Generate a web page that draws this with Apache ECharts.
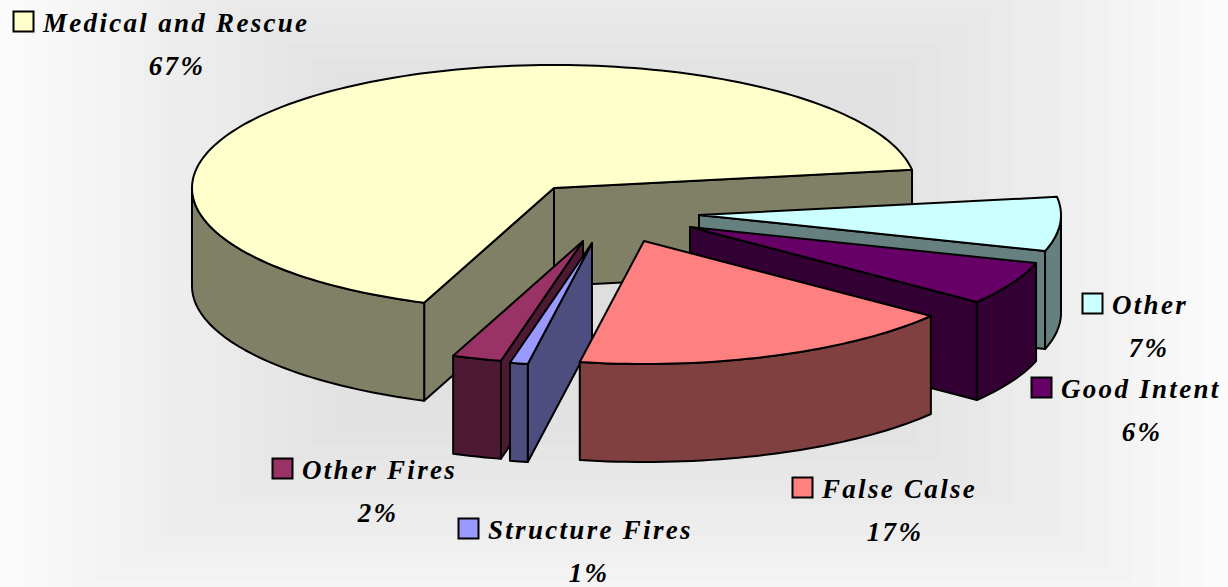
<!DOCTYPE html>
<html>
<head>
<meta charset="utf-8">
<style>
html,body{margin:0;padding:0;background:#fbfbfb}
#c{width:1228px;height:587px;letter-spacing:2.3px}
</style>
<script src="https://cdn.jsdelivr.net/npm/echarts@6/dist/echarts.min.js"></script>
</head>
<body>
<div id="c"></div>
<script>
// ---- data, in pie order (counter-clockwise from the start angle); labels show whole percents
var categories = ['Medical and Rescue','Other Fires','Structure Fires','False Calse','Good Intent','Other'];
var shares = [66.8,2.2,0.8,17.4,5.7,7.1];

// ---- styling and layout
var topColors  = ['#FFFFCC','#993366','#9999FF','#FF8080','#660066','#CCFFFF'];
var sideColors = ['#808066','#4D1933','#4D4D80','#804040','#330033','#668080'];
var drawOrder  = [0,5,4,1,2,3];
var pieCenter = [554,188], radiusX = 362, radiusY = 123, depth = 98, startAngle = 8.5;
var explodeX = [0,29,38,90,136,145];
var explodeY = [0,53,55,53,39,27];
var swatchX  = [13,272,458,792,1031,1082];
var swatchY  = [11,458,518,477,377,293];
var pctX     = [177,378,589,895,1142,1149];
var pctDY    = [43,43,43,43,43,43];
var FONT = 'italic bold 27px "Liberation Serif", serif';

var total = shares.reduce(function(a,b){return a+b;},0);
var angleFrom = [], angleTo = [];
(function(){var a=startAngle;shares.forEach(function(v,i){angleFrom[i]=a;a+=v/total*360;angleTo[i]=a;});})();

function pt(i,deg,drop){
  var r=deg*Math.PI/180;
  return [pieCenter[0]+explodeX[i]+radiusX*Math.cos(r),
          pieCenter[1]+explodeY[i]-radiusY*Math.sin(r)+(drop||0)];
}
function apex(i,drop){return [pieCenter[0]+explodeX[i],pieCenter[1]+explodeY[i]+(drop||0)];}
function poly(points,fill){
  return {type:'polygon',shape:{points:points},silent:true,
    style:{fill:fill,stroke:'#000',lineWidth:2,lineJoin:'round'}};
}
function arc(i,a,b,drop){
  var out=[],n=Math.max(2,Math.ceil((b-a)/1.5));
  for(var k=0;k<=n;k++){out.push(pt(i,a+(b-a)*k/n,drop));}
  return out;
}
function renderSlice(params,api){
  var i=api.value(0), a0=angleFrom[i], a1=angleTo[i], kids=[], side=sideColors[i];
  var cos=function(d){return Math.cos(d*Math.PI/180);};
  if(cos(a0)>0){kids.push(poly([apex(i),pt(i,a0),pt(i,a0,depth),apex(i,depth)],side));}
  if(cos(a1)<0){kids.push(poly([apex(i),pt(i,a1),pt(i,a1,depth),apex(i,depth)],side));}
  // outer wall: only the part of the rim that faces the viewer
  [[180,360],[540,720]].forEach(function(w){
    var s=Math.max(a0,w[0]), e=Math.min(a1,w[1]);
    if(e>s){kids.push(poly(arc(i,s,e,0).concat(arc(i,s,e,depth).reverse()),side));}
  });
  kids.push(poly([apex(i)].concat(arc(i,a0,a1,0)),topColors[i]));
  return {type:'group',children:kids};
}
function renderLabel(params,api){
  var i=api.value(0), x=swatchX[i], y=swatchY[i];
  return {type:'group',children:[
    {type:'rect',shape:{x:x+.5,y:y+.5,width:20,height:20},silent:true,
      style:{fill:topColors[i],stroke:'#000',lineWidth:2}},
    {type:'text',silent:true,style:{x:x+30,y:y+12,text:categories[i],font:FONT,fill:'#000',
      textAlign:'left',textVerticalAlign:'middle'}},
    {type:'text',silent:true,style:{x:pctX[i],y:y+12+pctDY[i],text:Math.round(shares[i])+'%',font:FONT,fill:'#000',
      textAlign:'center',textVerticalAlign:'middle'}}
  ]};
}

// banded rectangular backdrop gradient
var bgT=[0,0.49,0.6,0.79,0.92,1], bgV=[220,227,232,240,247,251];
var bgCenter=[614,252], bgHalf=[614,390], bgStep=0.039;
function bgShade(t){
  for(var k=1;k<bgT.length;k++){
    if(t<=bgT[k]){return Math.round(bgV[k-1]+(bgV[k]-bgV[k-1])*(t-bgT[k-1])/(bgT[k]-bgT[k-1]));}
  }
  return bgV[bgV.length-1];
}
var bg=[];
for(var t=1;t>0.03;t-=bgStep){
  var g=bgShade(t);
  bg.push({type:'rect',silent:true,z:-10,
    shape:{x:bgCenter[0]-bgHalf[0]*t,y:bgCenter[1]-bgHalf[1]*t,width:2*bgHalf[0]*t,height:2*bgHalf[1]*t},
    style:{fill:'rgb('+g+','+g+','+g+')'}});
}

var chart=echarts.init(document.getElementById('c'),null,{renderer:'svg'});
chart.setOption({
  animation:false,
  backgroundColor:'#fbfbfb',
  graphic:bg,
  series:[
    {type:'custom',coordinateSystem:'none',z:2,renderItem:renderSlice,silent:true,
      data:drawOrder.map(function(i){return [i,shares[i]];})},
    {type:'custom',coordinateSystem:'none',z:3,renderItem:renderLabel,silent:true,
      data:categories.map(function(n,i){return [i,shares[i]];})}
  ]
});
</script>
</body>
</html>
